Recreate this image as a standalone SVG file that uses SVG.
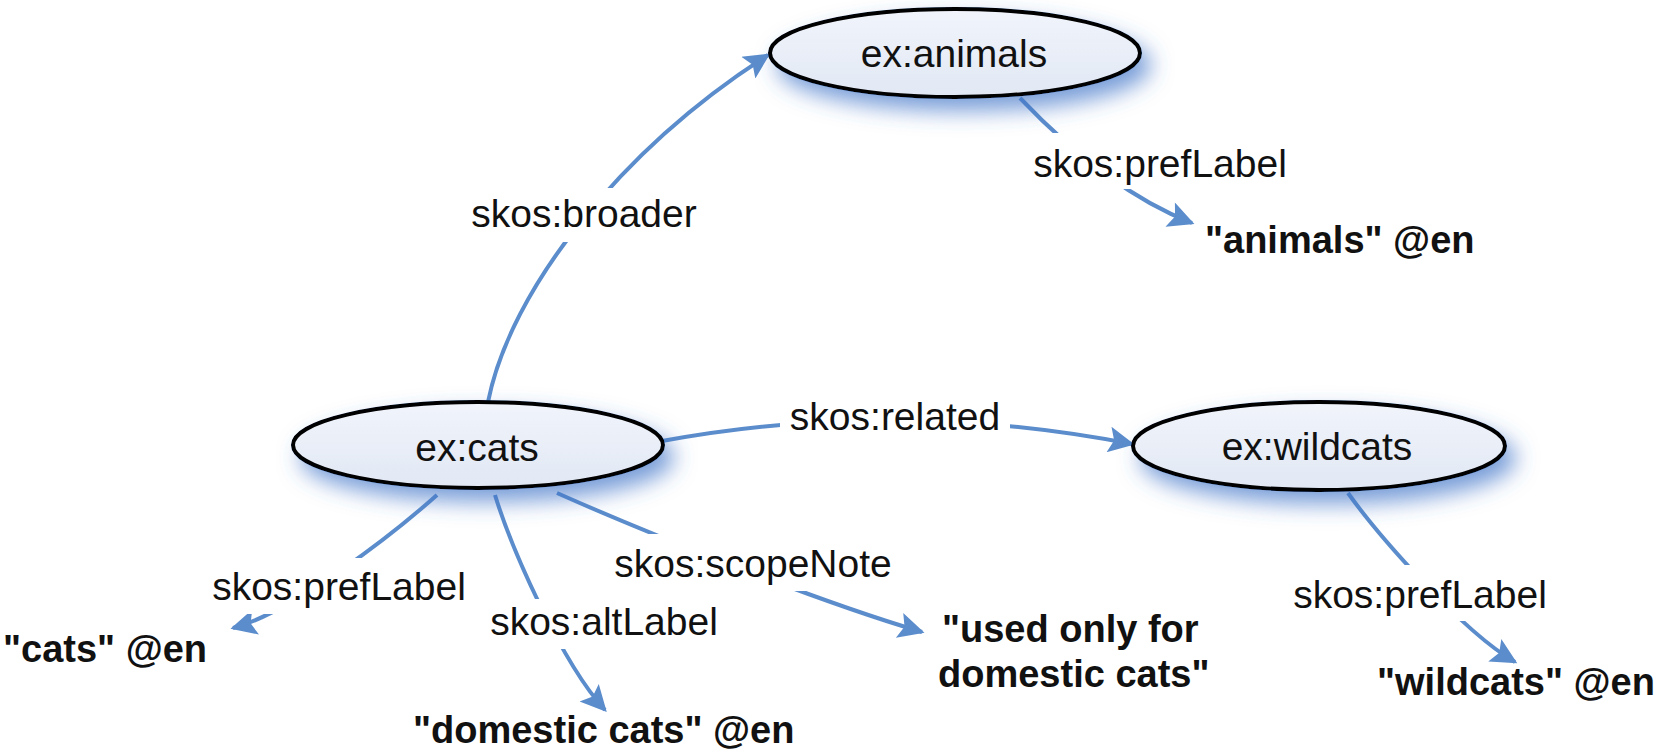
<svg xmlns="http://www.w3.org/2000/svg" width="1654" height="749" viewBox="0 0 1654 749">
<style>
.edge{fill:none;stroke:#5b8ccb;stroke-width:4;marker-end:url(#arr)}
.lblbg{fill:#ffffff}
.lbl{font-family:"Liberation Sans",Arial,sans-serif;font-size:39px;fill:#111;text-anchor:middle}
.lit{font-family:"Liberation Sans",Arial,sans-serif;font-size:38px;font-weight:bold;fill:#111}
.node{fill:url(#ng);stroke:#000;stroke-width:4;filter:url(#sh)}
.ntext{font-family:"Liberation Sans",Arial,sans-serif;font-size:39px;fill:#111;text-anchor:middle}
</style>
<defs>
<linearGradient id="ng" x1="0" y1="0" x2="0" y2="1">
<stop offset="0" stop-color="#f1f4fb"/>
<stop offset="1" stop-color="#e1e8f4"/>
</linearGradient>
<filter id="sh" x="-20%" y="-30%" width="150%" height="190%">
<feDropShadow dx="9" dy="12" stdDeviation="11" flood-color="#3f73c8" flood-opacity="0.7"/>
</filter>
<marker id="arr" viewBox="0 0 10 10" refX="9" refY="5" markerUnits="userSpaceOnUse" markerWidth="32" markerHeight="26" orient="auto">
<path d="M0,0 L10,5 L0,10 L2,5 z" fill="#5b8ccb"/>
</marker>
</defs>
<rect width="1654" height="749" fill="#ffffff"/>
<g id="connectors">
<path class="edge" d="M488,402 C510,290 620,150 768,55"/>
<path class="edge" d="M1020,98 C1060,140 1120,195 1192,223"/>
<path class="edge" d="M662,441 Q895,398 1132,444"/>
<path class="edge" d="M437,495 C392,535 293,612 233,628"/>
<path class="edge" d="M495,495 C511,547 561,662 605,710"/>
<path class="edge" d="M557,493 C620,521 800,596 922,632"/>
<path class="edge" d="M1348,493 C1375,531 1460,630 1515,662"/>
<rect class="lblbg" x="464" y="188" width="242" height="54"/>
<text class="lbl" x="584" y="227">skos:broader</text>
<rect class="lblbg" x="1026" y="133" width="268" height="56"/>
<text class="lbl" x="1160" y="177">skos:prefLabel</text>
<rect class="lblbg" x="780" y="394" width="230" height="46"/>
<text class="lbl" x="895" y="430">skos:related</text>
<rect class="lblbg" x="205" y="558" width="268" height="56"/>
<text class="lbl" x="339" y="600">skos:prefLabel</text>
<rect class="lblbg" x="484" y="599" width="240" height="50"/>
<text class="lbl" x="604" y="635">skos:altLabel</text>
<rect class="lblbg" x="605" y="534" width="295" height="57"/>
<text class="lbl" x="753" y="577">skos:scopeNote</text>
<rect class="lblbg" x="1285" y="565" width="270" height="56"/>
<text class="lbl" x="1420" y="608">skos:prefLabel</text>
</g>
<g id="n-animals">
<ellipse class="node" cx="955" cy="53" rx="185" ry="44"/>
<text class="ntext" x="954" y="67">ex:animals</text>
</g>
<g id="n-cats">
<ellipse class="node" cx="478" cy="445" rx="185" ry="43"/>
<text class="ntext" x="477" y="461">ex:cats</text>
</g>
<g id="n-wildcats">
<ellipse class="node" cx="1319" cy="446" rx="186" ry="44"/>
<text class="ntext" x="1317" y="460">ex:wildcats</text>
</g>
<g id="l-animals"><text class="lit" x="1205" y="253">"animals" @en</text></g>
<g id="l-cats"><text class="lit" x="3" y="662">"cats" @en</text></g>
<g id="l-domestic"><text class="lit" x="413" y="743">"domestic cats" @en</text></g>
<g id="l-scope"><text class="lit" x="942" y="642">"used only for</text><text class="lit" x="938" y="687">domestic cats"</text></g>
<g id="l-wildcats"><text class="lit" x="1377" y="695">"wildcats" @en</text></g>
</svg>
